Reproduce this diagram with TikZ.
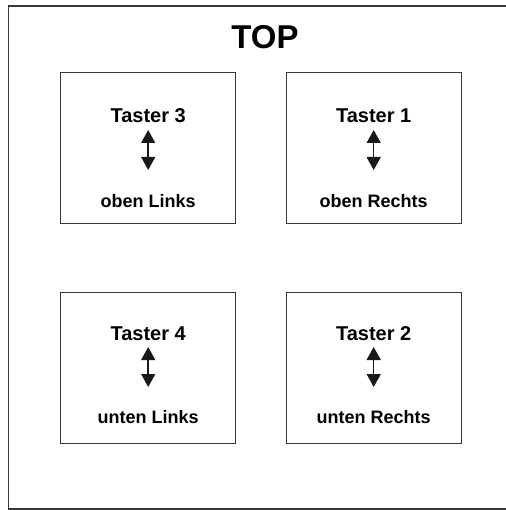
\documentclass[tikz,border=0pt]{standalone}
\usepackage{fontspec}
\setmainfont{Liberation Sans}
\usetikzlibrary{arrows.meta}
\begin{document}
\begin{tikzpicture}[x=1pt,y=1pt,
  frame/.style={draw=black!78, line width=1.4pt},
  panel/.style={frame, minimum width=175pt, minimum height=151pt, anchor=north west, inner sep=0},
  heading/.style={font=\bfseries\fontsize{33}{38}\selectfont, anchor=base, inner sep=0},
  keyname/.style={font=\bfseries\fontsize{20}{24}\selectfont, anchor=base, inner sep=0, text=black},
  place/.style={font=\bfseries\fontsize{18}{22}\selectfont, anchor=base, inner sep=0, text=black},
  updown/.style={{Triangle[width=14pt,length=13pt]}-{Triangle[width=14pt,length=13pt]}, line width=1.5pt, draw=black!90, fill=black!90}]
\useasboundingbox (0,0) rectangle (505,-510);

% housing outline, open on the right side
\draw[frame] (506,-6) -- (8.5,-6) -- (8.5,-509) -- (506,-509);
\node[heading, text=black] (top) at (265,-49) {TOP};

% four key panels
\node[panel] (p3) at (60,-72) {};
\node[panel] (p1) at (285.5,-72) {};
\node[panel] (p4) at (60,-292) {};
\node[panel] (p2) at (285.5,-292) {};

% upper row
\node[keyname] (k3) at ([yshift=-51pt]p3.north) {Taster 3};
\node[place]   (l3) at ([yshift=-136pt]p3.north) {oben Links};
\node[keyname] (k1) at ([yshift=-51pt]p1.north) {Taster 1};
\node[place]   (l1) at ([yshift=-136pt]p1.north) {oben Rechts};

% lower row
\node[keyname] (k4) at ([yshift=-48pt]p4.north) {Taster 4};
\node[place]   (l4) at ([yshift=-131pt]p4.north) {unten Links};
\node[keyname] (k2) at ([yshift=-48pt]p2.north) {Taster 2};
\node[place]   (l2) at ([yshift=-131pt]p2.north) {unten Rechts};

% double arrows
\foreach \n in {3,1,4,2}
  \draw[updown] ([yshift=-7pt]k\n.base) -- ([yshift=-47pt]k\n.base);
\end{tikzpicture}
\end{document}
